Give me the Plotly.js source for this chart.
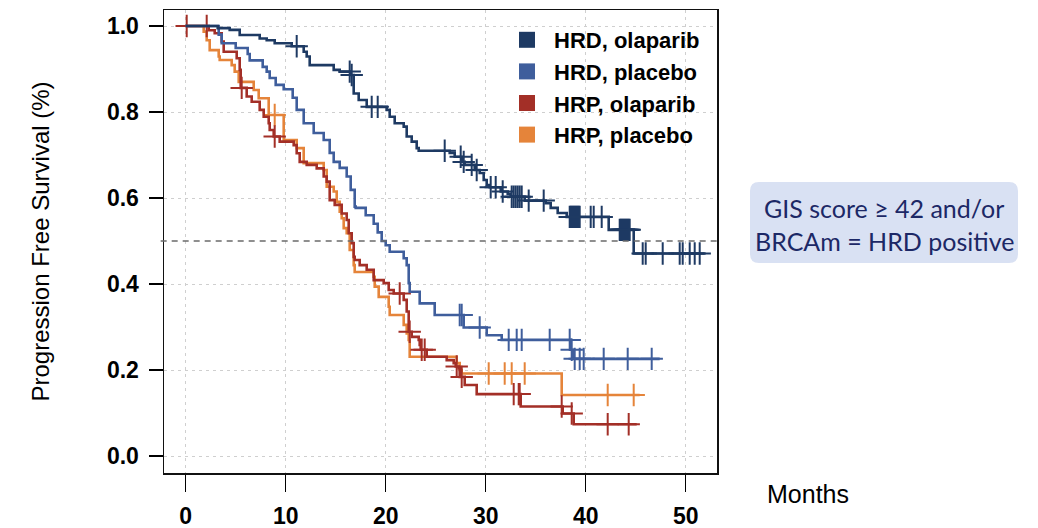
<!DOCTYPE html>
<html><head><meta charset="utf-8">
<script src="https://cdn.plot.ly/plotly-3.0.1.min.js"></script>
<style>html,body{margin:0;padding:0;background:#fff;} #chart{width:1038px;height:528px;}</style>
</head><body><div id="chart"></div>
<script>
// ---- data ----
const seriesNames = ['HRD, olaparib', 'HRD, placebo', 'HRP, olaparib', 'HRP, placebo'];
const seriesColors = ['#1e3a63', '#3f5e9c', '#a32f27', '#e5843a'];

const hrdOlaTime = [0,3.2,4.4,5.4,7.4,8.1,8.9,10.6,11.8,12.1,12.4,14.8,15.4,16.5,16.8,17.3,18.1,20.1,20.4,20.9,21.8,22.1,22.6,23.1,23.3,26.4,26.9,27.6,27.9,28.9,29.4,29.8,30.1,30.4,31.5,32.2,32.5,33.9,36.0,36.5,37.2,38.1,42.3,44.8,51.9];
const hrdOlaSurv = [1,0.995,0.991,0.979,0.971,0.967,0.96,0.953,0.94,0.929,0.909,0.898,0.894,0.886,0.843,0.828,0.812,0.805,0.789,0.774,0.766,0.743,0.731,0.716,0.71,0.705,0.696,0.684,0.677,0.665,0.658,0.642,0.630,0.625,0.615,0.61,0.603,0.594,0.588,0.577,0.565,0.556,0.526,0.471,0.471];
const hrdOlaCensor = [11.1,16.4,16.6,18.6,19.2,25.9,27.5,27.8,28.6,29.1,30.5,31.0,31.7,32.6,32.8,33.0,33.2,33.4,33.6,34.3,35.8,38.4,38.5,38.6,38.7,38.8,38.9,39.0,39.1,39.2,39.3,39.4,40.5,40.8,41.6,43.4,43.5,43.6,43.7,43.8,43.9,44.0,44.1,44.2,44.3,44.4,45.7,46.0,47.7,49.4,49.7,50.4,50.9,51.4];

const hrdPlaTime = [0,3.3,3.6,5.0,6.2,6.4,7.7,8.1,8.4,9.0,9.8,10.7,11.1,11.8,12.8,13.8,14.4,14.8,15.4,16.1,16.5,16.9,17.0,18.0,18.8,19.2,19.6,20.0,20.4,21.8,22.1,22.3,22.4,23.4,24.9,27.8,30.1,31.6,38.5,38.7,47.4];
const hrdPlaSurv = [1,0.98,0.96,0.949,0.935,0.92,0.905,0.894,0.879,0.863,0.853,0.833,0.805,0.774,0.751,0.735,0.705,0.684,0.670,0.65,0.619,0.58,0.577,0.56,0.54,0.52,0.5,0.49,0.475,0.46,0.444,0.402,0.382,0.355,0.328,0.299,0.281,0.27,0.247,0.226,0.226];
const hrdPlaCensor = [27.4,27.6,29.4,32.3,33.1,33.6,36.4,38.4,38.6,38.9,39.4,39.8,41.8,44.2,46.6];

const hrpOlaTime = [0,2.3,2.9,3.6,3.8,5.1,5.4,5.5,6.1,6.6,7.4,7.8,8.3,8.4,8.8,9.4,10.8,11.1,11.4,12.1,13.1,13.8,14.1,14.4,14.9,15.6,16.1,16.3,16.6,16.8,16.9,17.4,18.1,18.8,19.8,20.3,20.8,21.8,22.1,22.3,22.6,23.3,23.4,23.5,24.1,26.1,26.8,27.0,27.3,27.4,27.9,29.1,33.5,37.7,38.8,45.1];
const hrpOlaSurv = [1,0.99,0.983,0.964,0.94,0.925,0.898,0.856,0.836,0.824,0.805,0.789,0.774,0.758,0.743,0.731,0.723,0.704,0.684,0.677,0.669,0.65,0.638,0.595,0.584,0.564,0.549,0.518,0.495,0.463,0.456,0.444,0.433,0.409,0.402,0.386,0.378,0.363,0.336,0.289,0.277,0.27,0.258,0.247,0.231,0.223,0.216,0.208,0.204,0.184,0.165,0.144,0.115,0.099,0.074,0.074];
const hrpOlaCensor = [0.1,2.1,5.6,8.9,21.4,22.4,23.6,23.9,27.1,27.6,32.8,33.3,33.4,37.6,38.6,42.2,44.3];

const hrpPlaTime = [0,1.8,2.1,2.4,3.3,3.4,4.6,4.9,5.3,6.8,7.3,8.3,9.8,11.1,11.8,13.8,14.1,14.8,15.1,15.4,15.6,15.8,16.1,16.4,16.8,16.9,18.8,18.9,19.3,20.3,20.4,21.8,22.1,22.3,22.4,27.1,27.4,27.6,37.6,45.4];
const hrpPlaSurv = [1,0.987,0.967,0.944,0.929,0.921,0.909,0.894,0.87,0.851,0.832,0.793,0.735,0.716,0.681,0.665,0.626,0.615,0.591,0.568,0.553,0.53,0.518,0.479,0.444,0.428,0.417,0.394,0.37,0.347,0.328,0.305,0.285,0.27,0.231,0.216,0.2,0.192,0.142,0.142];
const hrpPlaCensor = [8.9,30.3,31.9,32.6,33.9,42.2,44.8];

const xTickVals = [0,10,20,30,40,50];
const yTickVals = [0,0.2,0.4,0.6,0.8,1.0];
const yTickText = ['0.0','0.2','0.4','0.6','0.8','1.0'];
const medianLine = 0.5;
const xAxisLabel = 'Months';
const yAxisLabel = 'Progression Free Survival (%)';
const noteLines = ['GIS score \u2265 42 and/or', 'BRCAm = HRD positive'];

// ---- build ----
const series = [
  {name: seriesNames[3], color: seriesColors[3], t: hrpPlaTime, s: hrpPlaSurv, c: hrpPlaCensor},
  {name: seriesNames[2], color: seriesColors[2], t: hrpOlaTime, s: hrpOlaSurv, c: hrpOlaCensor},
  {name: seriesNames[1], color: seriesColors[1], t: hrdPlaTime, s: hrdPlaSurv, c: hrdPlaCensor},
  {name: seriesNames[0], color: seriesColors[0], t: hrdOlaTime, s: hrdOlaSurv, c: hrdOlaCensor}
];
function survAt(times, surv, x) {
  let v = surv[0];
  for (let i = 0; i < times.length; i++) { if (times[i] <= x) v = surv[i]; }
  return v;
}
const FONT = 'Liberation Sans, Arial, Helvetica, sans-serif';
const traces = [];
series.forEach(sr => {
  traces.push({type: 'scatter', mode: 'lines', x: sr.t, y: sr.s, line: {shape: 'hv', color: sr.color, width: 2.6},
    showlegend: false, hoverinfo: 'skip'});
  traces.push({type: 'scatter', mode: 'markers', x: sr.c, y: sr.c.map(v => survAt(sr.t, sr.s, v)),
    marker: {symbol: 'cross-thin', size: 16, color: sr.color, line: {color: sr.color, width: 2}},
    showlegend: false, hoverinfo: 'skip'});
});
seriesNames.forEach((n, i) => {
  traces.push({type: 'scatter', mode: 'markers', x: [null], y: [null], name: n,
    marker: {symbol: 'square', size: 17, color: seriesColors[i]}, showlegend: true});
});

const L = 164, R = 717, T = 10, B = 473, W = 1038, H = 528;
const px = v => (v - L) / (R - L);
const py = v => (B - v) / (B - T);
const bx0 = px(750), bx1 = px(1018), by1 = py(182), by0 = py(263);
const rx = 9 / (R - L), ry = 9 / (B - T);
const boxPath = `M ${bx0+rx},${by1} L ${bx1-rx},${by1} Q ${bx1},${by1} ${bx1},${by1-ry} L ${bx1},${by0+ry} Q ${bx1},${by0} ${bx1-rx},${by0} L ${bx0+rx},${by0} Q ${bx0},${by0} ${bx0},${by0+ry} L ${bx0},${by1-ry} Q ${bx0},${by1} ${bx0+rx},${by1} Z`;

const layout = {
  width: W, height: H,
  margin: {l: L, r: W - R, t: T, b: H - B, pad: 0},
  paper_bgcolor: '#fff', plot_bgcolor: '#fff',
  font: {family: FONT, color: '#000'},
  xaxis: {range: [-2.17, 53.13], tickvals: xTickVals, ticktext: xTickVals.map(String),
    ticks: 'outside', ticklen: 17, tickwidth: 1.3, tickcolor: '#000',
    showline: true, linecolor: '#111', linewidth: 1.5, mirror: true, zeroline: false,
    showgrid: true, gridcolor: '#cfcfcf', gridwidth: 1, griddash: '3px,4px',
    tickfont: {family: FONT, size: 23, weight: 'bold', color: '#000'}, ticklabelstandoff: 5},
  yaxis: {range: [-0.0395, 1.0372], tickvals: yTickVals, ticktext: yTickText,
    ticks: 'outside', ticklen: 14, tickwidth: 1.3, tickcolor: '#000',
    showline: true, linecolor: '#111', linewidth: 1.5, mirror: true, zeroline: false,
    showgrid: true, gridcolor: '#cfcfcf', gridwidth: 1, griddash: '3px,4px',
    tickfont: {family: FONT, size: 23, weight: 'bold', color: '#000'}, ticklabelstandoff: 5,
    title: {text: yAxisLabel, font: {family: FONT, size: 24, color: '#000'}, standoff: 50}},
  legend: {x: px(500), y: py(19), xanchor: 'left', yanchor: 'top', bgcolor: 'rgba(0,0,0,0)',
    font: {family: FONT, size: 22, weight: 'bold', color: '#000'}, itemwidth: 44, tracegroupgap: 0},
  shapes: [
    {type: 'line', xref: 'paper', yref: 'y', x0: -0.006, x1: 1, y0: medianLine, y1: medianLine,
      line: {color: '#6b6b6b', width: 1.5, dash: '6px,5px'}},
    {type: 'path', xref: 'paper', yref: 'paper', path: boxPath, fillcolor: '#d9e1f3', line: {width: 0}, layer: 'below'}
  ],
  annotations: [
    {xref: 'paper', yref: 'paper', x: px(808), y: py(494), text: xAxisLabel, showarrow: false,
      font: {family: FONT, size: 25, color: '#000'}, xanchor: 'center', yanchor: 'middle'},
    {xref: 'paper', yref: 'paper', x: px(884), y: py(208), text: noteLines[0], showarrow: false,
      font: {family: 'Lato, Open Sans, sans-serif', size: 25, color: '#1c2866'}, xanchor: 'center', yanchor: 'middle'},
    {xref: 'paper', yref: 'paper', x: px(884), y: py(241), text: noteLines[1], showarrow: false,
      font: {family: 'Lato, Open Sans, sans-serif', size: 25, color: '#1c2866'}, xanchor: 'center', yanchor: 'middle'}
  ]
};
Plotly.newPlot('chart', traces, layout, {displayModeBar: false, staticPlot: true});
</script></body></html>
